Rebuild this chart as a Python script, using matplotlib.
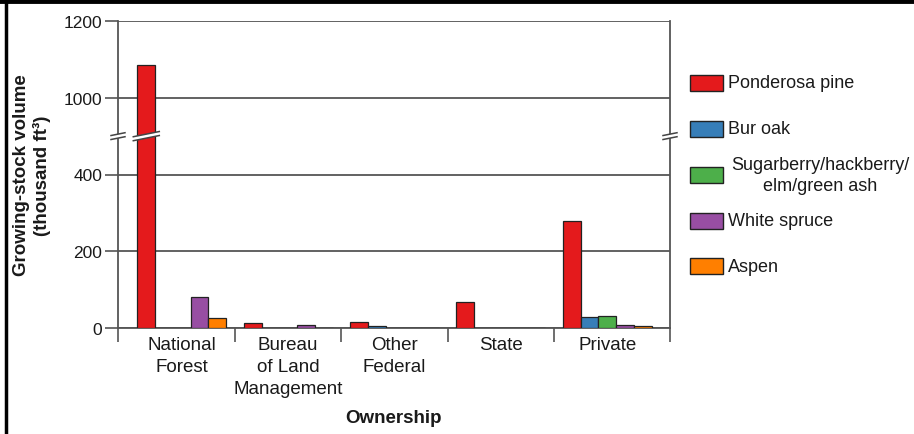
import numpy as np
import matplotlib
matplotlib.use("Agg")
import matplotlib.pyplot as plt
from matplotlib.patches import Rectangle, Polygon
from matplotlib.lines import Line2D

plt.rcParams['font.family'] = ['Liberation Sans', 'DejaVu Sans']

categories = ["National\nForest", "Bureau\nof Land\nManagement", "Other\nFederal", "State", "Private"]
species = ["Ponderosa pine", "Bur oak", "Sugarberry/hackberry/\nelm/green ash", "White spruce", "Aspen"]
ponderosa = [1085, 13, 15, 67, 279]
bur_oak = [0, 0, 4, 0, 29]
sugarberry = [0, 0, 0, 1, 32]
white_spruce = [82, 8, 0, 0, 8]
aspen = [25, 0, 0, 0, 6]
series = [ponderosa, bur_oak, sugarberry, white_spruce, aspen]
colors = ["#E41A1C", "#377EB8", "#4DAF4A", "#984EA3", "#FF7F00"]
yticks = [0, 200, 400, 1000, 1200]

W, H = 914, 435
fig = plt.figure(figsize=(W / 100, H / 100), dpi=100)
L, R, T, B = 118, 670, 22, 329
ax = fig.add_axes([L / W, 1 - B / H, (R - L) / W, (B - T) / H])

LOW, HIGH = 500, 900
def fwd(v):
    v = np.asarray(v, dtype=float)
    return np.where(v <= LOW, v, np.where(v >= HIGH, v - (HIGH - LOW), LOW))
def inv(u):
    u = np.asarray(u, dtype=float)
    return np.where(u <= LOW, u, u + (HIGH - LOW))
ax.set_yscale('function', functions=(fwd, inv))
ax.set_ylim(0, 1200)

x = np.arange(len(categories))
bw = 0.167
for k, (vals, c) in enumerate(zip(series, colors)):
    ax.bar(x + (k - 2) * bw, vals, width=bw, color=c, edgecolor="#222222",
           linewidth=0.9, zorder=3)

ax.set_xlim(-0.6, 4.59)
gridc = "#555555"
txtc = "#1a1a1a"
ax.set_yticks(yticks)
ax.set_yticklabels([str(t) for t in yticks])
ax.yaxis.grid(True, color=gridc, linewidth=1.3, zorder=1)
ax.set_axisbelow(True)
ax.tick_params(axis='y', length=9.5, width=1.2, color=gridc, pad=2, labelsize=12.5, labelcolor=txtc)

ax.set_xticks(x)
ax.set_xticklabels(categories, fontsize=13.5, linespacing=1.36, color=txtc)
ax.set_xticks([-0.6, 0.5, 1.5, 2.5, 3.5, 4.59], minor=True)
ax.tick_params(axis='x', which='major', length=0, pad=6)
ax.tick_params(axis='x', which='minor', length=10, width=1.2, color=gridc)

for s in ['left', 'right', 'bottom']:
    ax.spines[s].set_color(gridc)
    ax.spines[s].set_linewidth(1.3)
ax.spines['top'].set_visible(False)

ax.set_xlabel("Ownership", fontsize=13.5, fontweight='bold', color=txtc)
ax.xaxis.set_label_coords(0.5, (B - 410) / (B - T))
ax.set_ylabel("Growing-stock volume\n(thousand ft³)", fontsize=13.5, fontweight='bold',
              color=txtc, linespacing=1.15, va='center')
ax.yaxis.set_label_coords((32 - L) / (R - L), 0.5)

# axis break marks
aw, ah = R - L, B - T
yb = fwd(LOW) / fwd(1200)
def brk(xc_ax, half_px, gap_px=4.0, slope=0.2):
    dx = half_px / aw
    def yy(xpx, off):
        return yb + (xpx * slope + off) / ah
    poly = Polygon([(xc_ax - dx, yy(-half_px, -gap_px / 2)), (xc_ax + dx, yy(half_px, -gap_px / 2)),
                    (xc_ax + dx, yy(half_px, gap_px / 2)), (xc_ax - dx, yy(-half_px, gap_px / 2))],
                   closed=True, facecolor='white', edgecolor='none', transform=ax.transAxes,
                   clip_on=False, zorder=5)
    ax.add_patch(poly)
    for off in (-gap_px / 2, gap_px / 2):
        ax.add_line(Line2D([xc_ax - dx, xc_ax + dx], [yy(-half_px, off), yy(half_px, off)],
                           color="#444444", lw=1.1, transform=ax.transAxes, clip_on=False, zorder=6))
brk(0.0, 7)
brk(1.0, 7)
xbar = (x[0] - 2 * bw - (-0.6)) / (4.59 + 0.6)
brk(xbar, 13)

# legend
for i, (lab, c) in enumerate(zip(species, colors)):
    yc = [84, 130, 176, 222, 267][i]
    fig.patches.append(Rectangle((690 / W, 1 - (yc + 8) / H), 33 / W, 16 / H, facecolor=c,
                                 edgecolor="#222222", linewidth=1.0, transform=fig.transFigure))
    if "\n" in lab:
        fig.text(820 / W, 1 - yc / H, lab, ha='center', va='center', fontsize=13,
                 linespacing=1.3, color=txtc)
    else:
        fig.text(728 / W, 1 - yc / H, lab, ha='left', va='center', fontsize=13, color=txtc)

# outer frame
fig.add_artist(Line2D([0, 1], [1 - 2 / H, 1 - 2 / H], color='black', lw=3.5, transform=fig.transFigure))
fig.add_artist(Line2D([6 / W, 6 / W], [0, 1 - 2 / H], color='black', lw=2.5, transform=fig.transFigure))

fig.savefig("out.png", dpi=100)
